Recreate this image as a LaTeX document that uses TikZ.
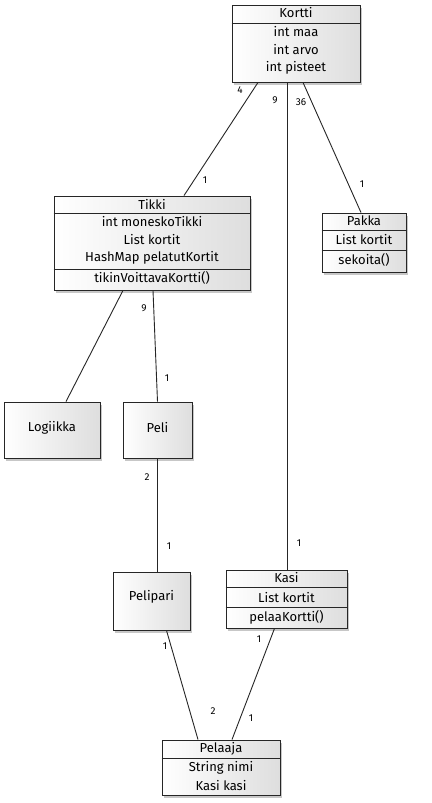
\documentclass[tikz,border=0pt]{standalone}
\usepackage{fontspec}
\setmainfont{Fira Sans}
\usetikzlibrary{shadows}
\begin{document}
\begin{tikzpicture}[x=1pt,y=-1pt,
  box/.style={draw=black!85, line width=0.9pt, left color=white, right color=black!13,
    drop shadow={shadow xshift=2pt, shadow yshift=-3pt, opacity=0.22, fill=black},
    inner sep=0pt},
  txt/.style={font=\fontsize{13}{15}\selectfont, inner sep=0pt, anchor=center},
  lbl/.style={font=\fontsize{10}{12}\selectfont, inner sep=0pt},
  div/.style={draw=black!85, line width=0.9pt},
  edge/.style={draw=black!85, line width=0.9pt}]
\useasboundingbox[fill=white] (0,0) rectangle (431,803);

% Kortti
\node[box, minimum width=128pt, minimum height=77pt] (kortti) at (296,43.5) {};
\draw[div] (kortti.west |- 0,23) -- (kortti.east |- 0,23);
\node[txt] (kortti-h) at (296,13) {Kortti};
\node[txt] (kortti-a) at (296,32) {int maa};
\node[txt] (kortti-b) at (296,50) {int arvo};
\node[txt] (kortti-c) at (296,68) {int pisteet};

% Tikki
\node[box, minimum width=196pt, minimum height=94pt] (tikki) at (152,243) {};
\draw[div] (tikki.west |- 0,213) -- (tikki.east |- 0,213);
\draw[div] (tikki.west |- 0,269) -- (tikki.east |- 0,269);
\node[txt] (tikki-h) at (152,204) {Tikki};
\node[txt] (tikki-a) at (152,222) {int moneskoTikki};
\node[txt] (tikki-b) at (152,240) {List kortit};
\node[txt] (tikki-c) at (152,258) {HashMap pelatutKortit};
\node[txt] (tikki-d) at (152,278) {tikinVoittavaKortti()};

% Pakka
\node[box, minimum width=84pt, minimum height=59pt] (pakka) at (364,242.5) {};
\draw[div] (pakka.west |- 0,230) -- (pakka.east |- 0,230);
\draw[div] (pakka.west |- 0,250) -- (pakka.east |- 0,250);
\node[txt] (pakka-h) at (364,221) {Pakka};
\node[txt] (pakka-a) at (364,240) {List kortit};
\node[txt] (pakka-b) at (364,260) {sekoita()};

% Logiikka, Peli, Pelipari
\node[box, minimum width=96pt, minimum height=56pt] (logiikka) at (52,430) {};
\node[txt] (logiikka-t) at (52,428) {Logiikka};
\node[box, minimum width=69pt, minimum height=56pt] (peli) at (157.5,430) {};
\node[txt] (peli-t) at (157.5,428) {Peli};
\node[box, minimum width=77pt, minimum height=58pt] (pelipari) at (151.5,601) {};
\node[txt] (pelipari-t) at (151.5,597) {Pelipari};

% Kasi
\node[box, minimum width=121pt, minimum height=58pt] (kasi) at (286.5,599) {};
\draw[div] (kasi.west |- 0,587) -- (kasi.east |- 0,587);
\draw[div] (kasi.west |- 0,607) -- (kasi.east |- 0,607);
\node[txt] (kasi-h) at (286.5,578) {Kasi};
\node[txt] (kasi-a) at (286.5,597) {List kortit};
\node[txt] (kasi-b) at (286.5,617) {pelaaKortti()};

% Pelaaja
\node[box, minimum width=118pt, minimum height=55pt] (pelaaja) at (221,767.5) {};
\draw[div] (pelaaja.west |- 0,758) -- (pelaaja.east |- 0,758);
\node[txt] (pelaaja-h) at (221,749) {Pelaaja};
\node[txt] (pelaaja-a) at (221,768) {String nimi};
\node[txt] (pelaaja-b) at (221,785) {Kasi kasi};

% connectors
\draw[edge] ([xshift=-38pt]kortti.south) -- ([xshift=32pt]tikki.north);
\draw[edge] ([xshift=-9pt]kortti.south) -- ([xshift=0.5pt]kasi.north);
\draw[edge] ([xshift=7pt]kortti.south) -- ([xshift=-3pt]pakka.north);
\draw[edge] ([xshift=-29pt]tikki.south) -- ([xshift=14pt]logiikka.north);
\draw[edge] ([xshift=1pt]tikki.south) -- (peli.north);
\draw[edge] (peli.south) -- ([xshift=6pt]pelipari.north);
\draw[edge] ([xshift=15pt]pelipari.south) -- ([xshift=-23pt]pelaaja.north);
\draw[edge] ([xshift=-12pt]kasi.south) -- ([xshift=11pt]pelaaja.north);

% multiplicities
\node[lbl] (m1) at (240,90) {4};
\node[lbl] (m2) at (205,180) {1};
\node[lbl] (m3) at (275,100) {9};
\node[lbl] (m4) at (299,543) {1};
\node[lbl] (m5) at (301,102) {36};
\node[lbl] (m6) at (362,184) {1};
\node[lbl] (m7) at (144,308) {9};
\node[lbl] (m8) at (167,378) {1};
\node[lbl] (m9) at (147,477) {2};
\node[lbl] (m10) at (169,546) {1};
\node[lbl] (m11) at (165,646) {1};
\node[lbl] (m12) at (213,711) {2};
\node[lbl] (m13) at (259,639) {1};
\node[lbl] (m14) at (251,718) {1};
\end{tikzpicture}
\end{document}
